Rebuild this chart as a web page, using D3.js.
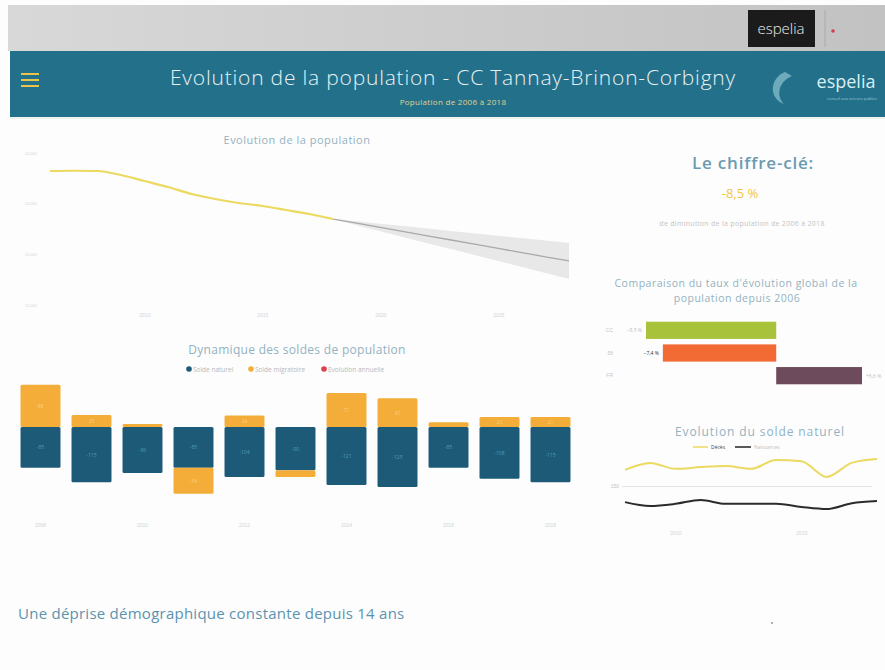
<!DOCTYPE html>
<html>
<head>
<meta charset="utf-8">
<script src="https://cdn.jsdelivr.net/npm/d3@7"></script>
<style>
  body { margin: 0; background: #fdfdfd; }
  svg { display: block; font-family: "Open Sans", "Lato", sans-serif; }
</style>
</head>
<body>
<div id="board"></div>
<script>
// population (evolution)
var popYears = [2006, 2007, 2008, 2009, 2010, 2011, 2012, 2013, 2014, 2015, 2016, 2017, 2018];
var popValues = [13645, 13650, 13645, 13566, 13447, 13329, 13191, 13092, 13013, 12954, 12875, 12796, 12697];
var projYears = [2018, 2019, 2020, 2021, 2022, 2023, 2024, 2025, 2026, 2027, 2028];
var projValues = [12697, 12614, 12531, 12449, 12366, 12283, 12200, 12117, 12035, 11952, 11869];
var projLow = [12697, 12574, 12456, 12339, 12221, 12103, 11985, 11867, 11750, 11632, 11514];
var projHigh = [12697, 12654, 12606, 12559, 12511, 12463, 12415, 12367, 12320, 12272, 12224];
var popTicks = [11000, 12000, 13000, 14000];
var popXTicks = [2010, 2015, 2020, 2025];

// soldes
var soldeYears = [2008, 2009, 2010, 2011, 2012, 2013, 2014, 2015, 2016, 2017, 2018];
var soldeNaturel = [-85, -115, -96, -85, -104, -90, -121, -125, -85, -108, -115];
var soldeMigratoire = [88, 25, 6, -54, 24, -14, 71, 60, 10, 21, 21];
var soldeLegend = ["Solde naturel", "Solde migratoire", "Evolution annuelle"];

// comparaison
var compLabels = ["CC", "58", "FR"];
var compValues = [-8.5, -7.4, 5.6];

// solde naturel
var natYears = [2008, 2009, 2010, 2011, 2012, 2013, 2014, 2015, 2016, 2017, 2018];
var deces = [196, 216, 199, 204, 207, 199, 224, 221, 176, 216, 227];
var naissances = [104, 93, 99, 110, 99, 99, 99, 90, 84, 101, 107];

var W = 885, H = 670;
var teal = "#23708a", blue = "#1d5a78", yellow = "#f4ad38", titleCol = "#93b2c1";

var svg = d3.select("#board").append("svg")
    .attr("width", W)
    .attr("height", H);

// page bg
svg.append("rect").attr("width", W).attr("height", H).attr("fill", "#fdfdfd");

// top grey band
var grad = svg.append("defs").append("linearGradient").attr("id", "topg");
grad.append("stop").attr("offset", "0%").attr("stop-color", "#d8d8d8");
grad.append("stop").attr("offset", "100%").attr("stop-color", "#c2c2c2");
svg.append("rect").attr("x", 8).attr("y", 5).attr("width", W - 8).attr("height", 46).attr("fill", "url(#topg)");
svg.append("rect").attr("x", 748).attr("y", 10).attr("width", 67).attr("height", 37).attr("fill", "#1b1b1b");
svg.append("text").attr("x", 781).attr("y", 34).attr("text-anchor", "middle")
    .attr("fill", "#eee").style("font-size", "15px").style("font-weight", 300).text("espelia");
svg.append("line").attr("x1", 825).attr("x2", 825).attr("y1", 10).attr("y2", 47).attr("stroke", "#aaa");
svg.append("circle").attr("cx", 833).attr("cy", 31).attr("r", 1.8).attr("fill", "#d04050");

// header
svg.append("rect").attr("x", 10).attr("y", 51).attr("width", W - 10).attr("height", 66).attr("fill", teal);
[73, 79, 85].forEach(function(y) {
  svg.append("rect").attr("x", 21).attr("y", y).attr("width", 18).attr("height", 2).attr("fill", "#e8c44a");
});
svg.append("text").attr("x", 453).attr("y", 85).attr("text-anchor", "middle")
    .attr("fill", "#e9f1f4").style("font-size", "21px").style("font-weight", 300)
    .style("letter-spacing", "0.8px")
    .text("Evolution de la population - CC Tannay-Brinon-Corbigny");
svg.append("text").attr("x", 453).attr("y", 105).attr("text-anchor", "middle")
    .attr("fill", "#e3d08e").style("font-size", "8px").style("letter-spacing", "0.3px")
    .text("Population de 2006 à 2018");
svg.append("path").attr("d", "M785,72 C770,78 768,98 784,104 C776,96 778,82 792,76 Z").attr("fill", "#7fb9c8").attr("opacity", 0.8);
svg.append("text").attr("x", 846).attr("y", 88).attr("text-anchor", "middle")
    .attr("fill", "#d9eef3").style("font-size", "18px").text("espelia");
svg.append("text").attr("x", 852).attr("y", 100).attr("text-anchor", "middle")
    .attr("fill", "#9cc9d4").style("font-size", "4px").text("conseil aux acteurs publics");
svg.append("line").attr("x1", 10).attr("x2", W).attr("y1", 118).attr("y2", 118).attr("stroke", "#e6e6e6");

// ---------- Evolution de la population ----------
svg.append("text").attr("x", 297).attr("y", 144).attr("text-anchor", "middle")
    .attr("fill", titleCol).style("font-size", "11px").style("letter-spacing", "0.5px")
    .text("Evolution de la population");

var xP = d3.scaleLinear().domain([2006, 2028]).range([50, 569]);
var yP = d3.scaleLinear().domain([11000, 14000]).range([305, 153]);

var gP = svg.append("g");
gP.append("g").attr("transform", "translate(40,0)")
    .call(d3.axisLeft(yP).tickValues(popTicks).tickSize(0).tickFormat(d3.format(",")))
    .call(function(g) { g.select(".domain").remove(); })
    .selectAll("text").attr("fill", "#d4d4d4").style("font-size", "4px");
gP.append("g").attr("transform", "translate(0,310)")
    .call(d3.axisBottom(xP).tickValues(popXTicks).tickSize(0).tickFormat(d3.format("d")))
    .call(function(g) { g.select(".domain").remove(); })
    .selectAll("text").attr("fill", "#d4d4d4").style("font-size", "5px");

var band = d3.area()
    .x(function(d, i) { return xP(projYears[i]); })
    .y0(function(d, i) { return yP(projLow[i]); })
    .y1(function(d, i) { return yP(projHigh[i]); })
    .curve(d3.curveMonotoneX);
gP.append("path").datum(projYears).attr("d", band).attr("fill", "#e8e8e8");
gP.append("path").datum(projYears)
    .attr("d", d3.line().x(function(d) { return xP(d); }).y(function(d, i) { return yP(projValues[i]); }))
    .attr("fill", "none").attr("stroke", "#a9a9a9").attr("stroke-width", 1.3);
gP.append("path").datum(popYears)
    .attr("d", d3.line().x(function(d) { return xP(d); }).y(function(d, i) { return yP(popValues[i]); }).curve(d3.curveMonotoneX))
    .attr("fill", "none").attr("stroke", "#ecd960").attr("stroke-width", 2.2);

// ---------- Dynamique des soldes ----------
svg.append("text").attr("x", 297).attr("y", 354).attr("text-anchor", "middle")
    .attr("fill", titleCol).style("font-size", "12px").style("letter-spacing", "0.3px")
    .text("Dynamique des soldes de population");

var legCols = [blue, yellow, "#d9434f"];
var legX = [189, 251, 324];
soldeLegend.forEach(function(t, i) {
  svg.append("circle").attr("cx", legX[i]).attr("cy", 369).attr("r", 2.8).attr("fill", legCols[i]);
  svg.append("text").attr("x", legX[i] + 4).attr("y", 371.5).attr("fill", "#b8b8b8")
      .style("font-size", "6.5px").text(t);
});

var soldeData = soldeYears.map(function(y, i) {
  return {year: y, naturel: soldeNaturel[i], migratoire: soldeMigratoire[i]};
});
var stack = d3.stack().keys(["naturel", "migratoire"]).offset(d3.stackOffsetDiverging);
var series = stack(soldeData);

var xS = d3.scaleBand().domain(soldeYears).range([15, 576]).paddingInner(0.216).paddingOuter(0.108);
var yS = d3.scaleLinear().domain([-150, 100]).range([499, 379]);

var gS = svg.append("g");
gS.selectAll(".serie").data(series).enter().append("g")
    .attr("fill", function(d) { return d.key == "naturel" ? blue : yellow; })
  .selectAll("rect").data(function(d) { return d; }).enter().append("rect")
    .attr("x", function(d) { return xS(d.data.year); })
    .attr("y", function(d) { return yS(d[1]); })
    .attr("width", xS.bandwidth())
    .attr("height", function(d) { return yS(d[0]) - yS(d[1]); })
    .attr("rx", 1.5);

series.forEach(function(s) {
  gS.append("g").attr("fill", s.key == "naturel" ? "#4e9fb6" : "#f9cf8a")
    .selectAll("text").data(s).enter().append("text")
      .filter(function(d) { return Math.abs(d[1] - d[0]) > 15; })
      .attr("x", function(d) { return xS(d.data.year) + xS.bandwidth() / 2; })
      .attr("y", function(d) { return (yS(d[0]) + yS(d[1])) / 2 + 2; })
      .attr("text-anchor", "middle").style("font-size", "5px")
      .text(function(d) { return d.data[s.key]; });
});

gS.append("g").attr("transform", "translate(0,520)")
    .call(d3.axisBottom(xS).tickValues(soldeYears.filter(function(d, i) { return i % 2 == 0; })).tickSize(0))
    .call(function(g) { g.select(".domain").remove(); })
    .selectAll("text").attr("fill", "#d4d4d4").style("font-size", "5px");

// ---------- Le chiffre-clé ----------
svg.append("text").attr("x", 753).attr("y", 169).attr("text-anchor", "middle")
    .attr("fill", "#6b9bb1").style("font-size", "17px").style("font-weight", 600)
    .style("letter-spacing", "0.8px").text("Le chiffre-clé:");
svg.append("text").attr("x", 740).attr("y", 198).attr("text-anchor", "middle")
    .attr("fill", "#f2c64c").style("font-size", "13px").text("-8,5 %");
svg.append("text").attr("x", 742).attr("y", 226).attr("text-anchor", "middle")
    .attr("fill", "#c4c4c4").style("font-size", "7px").style("letter-spacing", "0.3px")
    .text("de diminution de la population de 2006 à 2018");

// ---------- Comparaison ----------
svg.append("text").attr("x", 736).attr("y", 287).attr("text-anchor", "middle")
    .attr("fill", titleCol).style("font-size", "10.5px").style("letter-spacing", "0.5px")
    .text("Comparaison du taux d'évolution global de la");
svg.append("text").attr("x", 737).attr("y", 302).attr("text-anchor", "middle")
    .attr("fill", titleCol).style("font-size", "10.5px").style("letter-spacing", "0.5px")
    .text("population depuis 2006");

var xC = d3.scaleLinear().domain([-8.5, 5.6]).range([646, 862]);
var yC = d3.scaleBand().domain(compLabels).range([319, 387]).paddingInner(0.24).paddingOuter(0.12);
var compCols = ["#a9c23c", "#f26b35", "#6d4a5c"];
var gC = svg.append("g");
gC.selectAll("rect").data(compValues).enter().append("rect")
    .attr("x", function(d) { return xC(Math.min(0, d)); })
    .attr("y", function(d, i) { return yC(compLabels[i]); })
    .attr("width", function(d) { return Math.abs(xC(d) - xC(0)); })
    .attr("height", yC.bandwidth())
    .attr("fill", function(d, i) { return compCols[i]; });
gC.append("g").attr("transform", "translate(616,0)")
    .call(d3.axisLeft(yC).tickSize(0))
    .call(function(g) { g.select(".domain").remove(); })
    .selectAll("text").attr("fill", "#c8c8c8").style("font-size", "5px");
gC.selectAll(".val").data(compValues).enter().append("text")
    .attr("x", function(d) { return d < 0 ? xC(d) - 4 : xC(d) + 4; })
    .attr("y", function(d, i) { return yC(compLabels[i]) + yC.bandwidth() / 2 + 2; })
    .attr("text-anchor", function(d) { return d < 0 ? "end" : "start"; })
    .attr("fill", function(d, i) { return i == 1 ? "#333" : "#c0c0c0"; })
    .style("font-size", "5px")
    .text(function(d) { return (d > 0 ? "+" : "") + d3.format(".1f")(d).replace(".", ",") + " %"; });

// ---------- Evolution du solde naturel ----------
svg.append("text").attr("x", 760).attr("y", 436).attr("text-anchor", "middle")
    .attr("fill", titleCol).style("font-size", "12px").style("letter-spacing", "0.9px")
    .text("Evolution du solde naturel");
svg.append("line").attr("x1", 693).attr("x2", 708).attr("y1", 447).attr("y2", 447).attr("stroke", "#ecd960").attr("stroke-width", 1.5);
svg.append("text").attr("x", 711).attr("y", 449).attr("fill", "#444").style("font-size", "5px").text("Décès");
svg.append("line").attr("x1", 735).attr("x2", 751).attr("y1", 447).attr("y2", 447).attr("stroke", "#222").attr("stroke-width", 1.5);
svg.append("text").attr("x", 754).attr("y", 449).attr("fill", "#c0c0c0").style("font-size", "5px").text("Naissances");

var xN = d3.scaleLinear().domain([2008, 2018]).range([625, 877]);
var yN = d3.scaleLinear().domain([60, 240]).range([517.5, 454.5]);
var gN = svg.append("g");
gN.append("g").attr("transform", "translate(622,0)")
    .call(d3.axisLeft(yN).tickValues([150]).tickSize(-(872 - 622)))
    .call(function(g) { g.select(".domain").remove(); })
    .call(function(g) { g.selectAll("line").attr("stroke", "#e4e4e4"); })
    .selectAll("text").attr("fill", "#c0c0c0").style("font-size", "5px");
gN.append("g").attr("transform", "translate(0,528)")
    .call(d3.axisBottom(xN).tickValues([2010, 2015]).tickSize(0).tickFormat(d3.format("d")))
    .call(function(g) { g.select(".domain").remove(); })
    .selectAll("text").attr("fill", "#d4d4d4").style("font-size", "5px");
gN.append("path").datum(natYears)
    .attr("d", d3.line().x(function(d) { return xN(d); }).y(function(d, i) { return yN(deces[i]); }).curve(d3.curveMonotoneX))
    .attr("fill", "none").attr("stroke", "#ecd960").attr("stroke-width", 2);
gN.append("path").datum(natYears)
    .attr("d", d3.line().x(function(d) { return xN(d); }).y(function(d, i) { return yN(naissances[i]); }).curve(d3.curveMonotoneX))
    .attr("fill", "none").attr("stroke", "#2b2b2b").attr("stroke-width", 2);

// ---------- conclusion ----------
svg.append("text").attr("x", 18).attr("y", 619)
    .attr("fill", "#5b93ad").style("font-size", "15px").style("letter-spacing", "0.25px")
    .text("Une déprise démographique constante depuis 14 ans");
svg.append("circle").attr("cx", 772).attr("cy", 623).attr("r", 0.8).attr("fill", "#555");
</script>
</body>
</html>
